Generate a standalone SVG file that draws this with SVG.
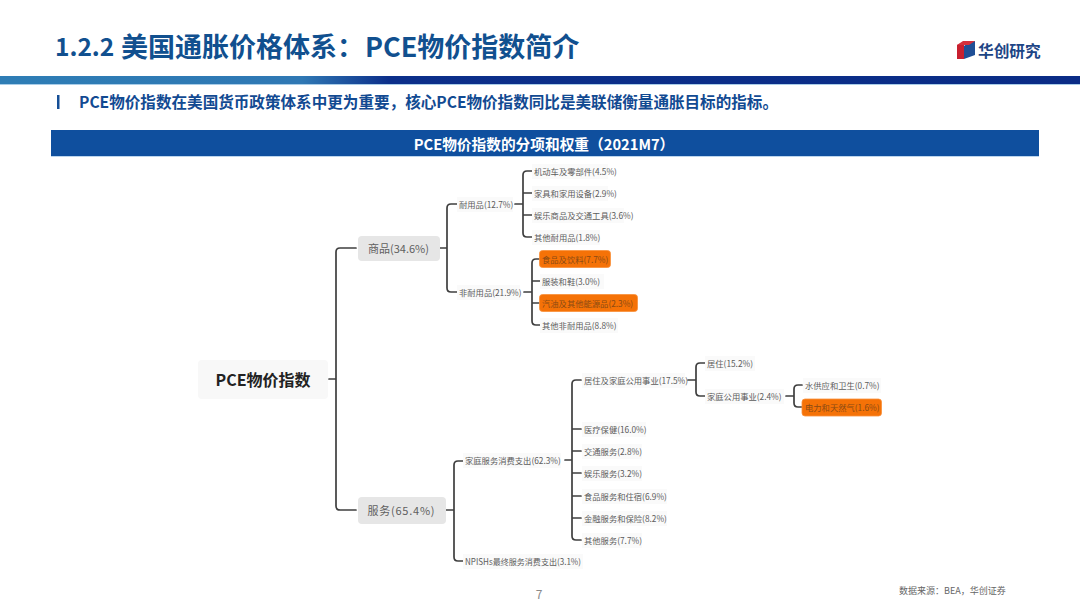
<svg xmlns="http://www.w3.org/2000/svg" width="1080" height="608" viewBox="0 0 1080 608">
<style>
text{font-family:"Noto Sans CJK SC","Noto Sans",sans-serif;dominant-baseline:central}
.t{font-size:8.3px;fill:#5c5c5c}
.h{fill:#fafafa}
.o{fill:#f57207;stroke:#f98f3a;stroke-width:.8}
.ot{font-size:8.3px;fill:#8a4a14}
.g{fill:#e6e6e6}
.gt{font-size:11px;fill:#5f5f5f;text-anchor:middle}
#connectors path{fill:none;stroke:#3f3f3f;stroke-width:1.7;stroke-linecap:round}
</style>
<defs><linearGradient id="bar" x1="0" x2="1" y1="0" y2="0"><stop offset="0" stop-color="#2e7db5"/><stop offset=".28" stop-color="#2f78b4"/><stop offset=".36" stop-color="#0c2f8a"/><stop offset="1" stop-color="#0a2c86"/></linearGradient></defs>
<rect width="1080" height="608" fill="#fff"/>
<g id="header">
<text x="55" y="45" font-size="27" font-weight="700" fill="#11508f"><tspan font-size="24.500">1.2.2 </tspan><tspan x="121">美国通胀价格体系：</tspan><tspan x="365">PCE物价指数简介</tspan></text>
<rect x="0" y="76" width="1080" height="8" fill="url(#bar)"/>
<rect x="0" y="84" width="1080" height="1" fill="#a9cde8"/>
<rect x="57" y="95" width="2.5" height="14" fill="#154f96"/>
<text x="79" y="101.500" font-size="15.700" font-weight="700" fill="#124a92" textLength="699" lengthAdjust="spacingAndGlyphs">PCE物价指数在美国货币政策体系中更为重要，核心PCE物价指数同比是美联储衡量通胀目标的指标。</text>
</g>
<g id="logo">
<polygon points="957,45 964,42 964,59 957,59" fill="#c8202f"/>
<polygon points="964,46 969,42 975,41 975,55 964,59" fill="#1f4f96"/>
<polygon points="957,45 963,41 975,41 969,45" fill="#d3303c"/>
<text x="978" y="50" font-size="15.700" font-weight="700" fill="#1d4585">华创研究</text>
</g>
<g id="band">
<rect x="51" y="130" width="988" height="26" fill="#0f4f9e"/>
<rect x="51" y="156" width="988" height="1" fill="#bcd6ee"/>
<text x="544" y="143" font-size="14.700" font-weight="700" fill="#fff" text-anchor="middle">PCE物价指数的分项和权重（2021M7）</text>
</g>
<g id="connectors">
<path d="M329 379H336M356 248H340Q336 248 336 252V506Q336 510 340 510H356"/>
<path d="M440 248H447M457 204H451Q447 204 447 208V288Q447 292 451 292H457"/>
<path d="M515 204H523M532 171H527Q523 171 523 175V233Q523 237 527 237H532M523 193H532M523 215H532"/>
<path d="M524 292H532M540 259H536Q532 259 532 263V321Q532 325 536 325H540M532 281H540M532 303H540"/>
<path d="M446 510H454M463 461H458Q454 461 454 465V557Q454 561 458 561H463"/>
<path d="M565 460H572M581 380H576Q572 380 572 384V536Q572 540 576 540H581M572 429H581M572 451H581M572 473H581M572 496H581M572 518H581"/>
<path d="M688 380H696M705 363H700Q696 363 696 367V392Q696 396 700 396H705"/>
<path d="M786 396H794M802 385H798Q794 385 794 389V403Q794 407 798 407H802"/>
</g>
<g id="n-root"><rect x="198" y="360" width="130" height="39" rx="4" fill="#f8f8f8"/><text x="263" y="379" font-size="16" font-weight="700" fill="#222" text-anchor="middle">PCE物价指数</text></g>
<g id="n-goods"><rect class="g" x="358" y="236" width="82" height="25" rx="4"/><text class="gt" x="398.500" y="247.500">商品(34.6%)</text></g>
<g id="n-services"><rect class="g" x="358" y="497" width="88" height="27" rx="4"/><text class="gt" x="401" y="509.500" textLength="67">服务(65.4%)</text></g>
<g id="n-durable"><rect class="h" x="457" y="197" width="56" height="15"/><text class="t" x="459" y="203.500">耐用品(12.7%)</text></g>
<g id="n-d1"><rect class="h" x="532" y="164" width="76" height="15"/><text class="t" x="534" y="170.500">机动车及零部件(4.5%)</text></g>
<g id="n-d2"><rect class="h" x="532" y="186" width="76" height="15"/><text class="t" x="534" y="192.500">家具和家用设备(2.9%)</text></g>
<g id="n-d3"><rect class="h" x="532" y="208" width="92" height="15"/><text class="t" x="534" y="214.500">娱乐商品及交通工具(3.6%)</text></g>
<g id="n-d4"><rect class="h" x="532" y="230" width="68" height="15"/><text class="t" x="534" y="237">其他耐用品(1.8%)</text></g>
<g id="n-nondurable"><rect class="h" x="457" y="285" width="63" height="15"/><text class="t" x="459" y="291.500">非耐用品(21.9%)</text></g>
<g id="n-nd1"><rect class="o" x="539.500" y="250.500" width="71" height="17" rx="3"/><text class="ot" x="542" y="258.500">食品及饮料(7.7%)</text></g>
<g id="n-nd2"><rect class="h" x="540" y="274" width="64" height="15"/><text class="t" x="542" y="280.500">服装和鞋(3.0%)</text></g>
<g id="n-nd3"><rect class="o" x="539.500" y="294.500" width="98" height="17" rx="3"/><text class="ot" x="542" y="302.500">汽油及其他能源品(2.3%)</text></g>
<g id="n-nd4"><rect class="h" x="540" y="318" width="78" height="15"/><text class="t" x="542" y="324.500">其他非耐用品(8.8%)</text></g>
<g id="n-household"><rect class="h" x="463" y="453" width="98" height="15"/><text class="t" x="465" y="459.500">家庭服务消费支出(62.3%)</text></g>
<g id="n-npish"><rect class="h" x="463" y="554" width="120" height="15"/><text class="t" x="465" y="560.500" textLength="116" lengthAdjust="spacingAndGlyphs">NPISHs最终服务消费支出(3.1%)</text></g>
<g id="n-h1"><rect class="h" x="582" y="373" width="103" height="15"/><text class="t" x="584" y="379.500">居住及家庭公用事业(17.5%)</text></g>
<g id="n-h2"><rect class="h" x="582" y="422" width="64" height="15"/><text class="t" x="584" y="428.500">医疗保健(16.0%)</text></g>
<g id="n-h3"><rect class="h" x="582" y="444" width="60" height="15"/><text class="t" x="584" y="450.500">交通服务(2.8%)</text></g>
<g id="n-h4"><rect class="h" x="582" y="466" width="60" height="15"/><text class="t" x="584" y="472.500">娱乐服务(3.2%)</text></g>
<g id="n-h5"><rect class="h" x="582" y="489" width="85" height="15"/><text class="t" x="584" y="495.500">食品服务和住宿(6.9%)</text></g>
<g id="n-h6"><rect class="h" x="582" y="511" width="85" height="15"/><text class="t" x="584" y="517.500">金融服务和保险(8.2%)</text></g>
<g id="n-h7"><rect class="h" x="582" y="533" width="60" height="15"/><text class="t" x="584" y="539.500">其他服务(7.7%)</text></g>
<g id="n-housing"><rect class="h" x="705" y="356" width="50" height="15"/><text class="t" x="707" y="362.500">居住(15.2%)</text></g>
<g id="n-utilities"><rect class="h" x="705" y="389" width="79" height="15"/><text class="t" x="707" y="395.500">家庭公用事业(2.4%)</text></g>
<g id="n-water"><rect class="h" x="803" y="378" width="78" height="15"/><text class="t" x="805" y="384.500">水供应和卫生(0.7%)</text></g>
<g id="n-power"><rect class="o" x="802" y="399" width="79.500" height="17" rx="3"/><text class="ot" x="805" y="407">电力和天然气(1.6%)</text></g>
<g id="footer">
<text x="539" y="593" font-size="12" fill="#8a8a8a" text-anchor="middle">7</text>
<text x="899" y="590" font-size="9" fill="#666">数据来源：BEA，华创证券</text>
</g>
</svg>
